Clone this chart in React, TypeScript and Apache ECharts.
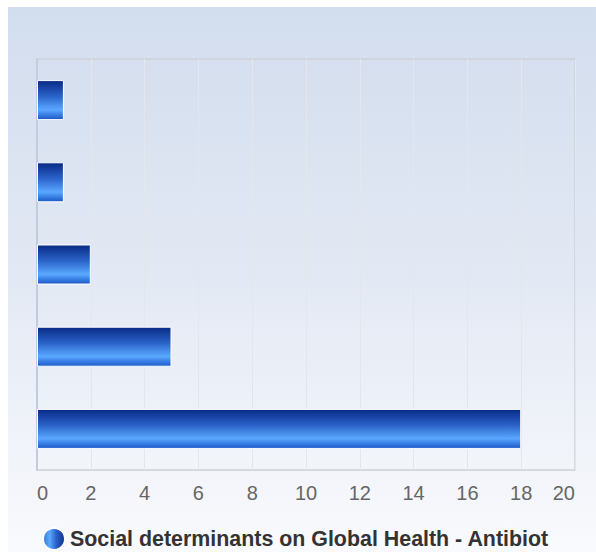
import React, { useEffect, useRef } from "react";
import * as echarts from "echarts";

const categories = ["A", "B", "C", "D", "E"];
const values = [1, 1, 2, 5, 18];
const seriesName = "Social determinants on Global Health - Antibiot";
const xMin = 0;
const xMax = 20;
const xInterval = 2;

export default function App() {
  const ref = useRef<HTMLDivElement>(null);
  useEffect(() => {
    if (!ref.current) return;
    const chart = echarts.init(ref.current, null, { renderer: "svg" });
    const barGrad = new echarts.graphic.LinearGradient(0, 0, 0, 1, [
      { offset: 0, color: "#082a85" },
      { offset: 0.4, color: "#2a62c8" },
      { offset: 0.75, color: "#5aa8ff" },
      { offset: 0.85, color: "#3f86ea" },
      { offset: 1, color: "#1b58c6" },
    ]);
    const iconGrad = new echarts.graphic.LinearGradient(0, 0, 1, 0, [
      { offset: 0, color: "#3574d8" },
      { offset: 0.3, color: "#5aa8ff" },
      { offset: 0.6, color: "#2a62c8" },
      { offset: 1, color: "#0a2f8f" },
    ]);
    chart.setOption({
      animation: false,
      textStyle: { fontFamily: "Arial, 'Liberation Sans', sans-serif" },
      grid: { left: 29, top: 52, right: 21, bottom: 82, show: true, borderColor: "#cdd1d8", borderWidth: 1.5, backgroundColor: "transparent" },
      legend: {
        show: true,
        left: 29,
        top: 515,
        icon: "circle",
        itemWidth: 22,
        itemHeight: 22,
        itemGap: 6,
        textStyle: { fontSize: 21.4, fontWeight: "bold", color: "#333" },
        data: [{ name: seriesName, itemStyle: { color: iconGrad } }],
      },
      xAxis: {
        type: "value",
        min: xMin,
        max: xMax,
        interval: xInterval,
        axisLine: { show: false },
        axisTick: { show: false },
        splitLine: { show: true, lineStyle: { color: "#e4e6ea", width: 1 } },
        axisLabel: { fontSize: 20, color: "#666", margin: 13, alignMinLabel: "left", alignMaxLabel: "right" },
      },
      yAxis: {
        type: "category",
        data: categories,
        inverse: true,
        axisLine: { show: true, lineStyle: { color: "#c3cbe0", width: 2 } },
        axisTick: { show: false },
        axisLabel: { show: false },
        splitLine: { show: false },
      },
      series: [
        {
          name: seriesName,
          type: "bar",
          data: values,
          barWidth: 40,
          itemStyle: { color: barGrad, borderColor: "#ffffff", borderWidth: 1 },
        },
      ],
    });
    return () => chart.dispose();
  }, []);
  return (
    <div
      ref={ref}
      style={{
        position: "absolute",
        left: 8,
        top: 7,
        width: 588,
        height: 545,
        background: "linear-gradient(to bottom, #d2ddee 0%, #e3e9f4 50%, #f9fafd 100%)",
      }}
    />
  );
}
